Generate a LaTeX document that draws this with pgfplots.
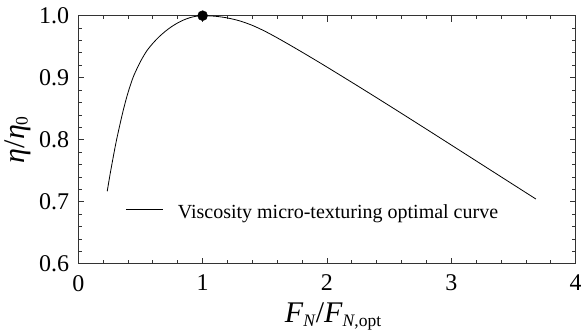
\documentclass[border=0pt]{standalone}
\usepackage{pgfplots}
\pgfplotsset{compat=1.18}
\usepackage{fontspec}
\setmainfont{Liberation Serif}
\newcommand{\sub}[1]{\raisebox{-3.5pt}{\fontsize{17.5}{17.5}\selectfont #1}}
\begin{document}
\begin{tikzpicture}
\begin{axis}[
  scale only axis, width=497.7pt, height=248.3pt,
  xmin=0, xmax=4, ymin=0.6, ymax=1.0,
  xtick={0,1,2,3,4}, ytick={0.6,0.7,0.8,0.9,1.0},
  minor x tick num=4, minor y tick num=4,
  tick align=inside,
  major tick length=6pt, minor tick length=3.5pt,
  every tick/.style={black!80, line width=0.9pt},
  axis line style={black!80, line width=1.2pt},
  /pgf/number format/assume math mode=true,
  y tick label style={/pgf/number format/fixed, /pgf/number format/fixed zerofill, /pgf/number format/precision=1},
  tick label style={font=\fontsize{24}{24}\selectfont},
  x tick label style={inner sep=0pt, anchor=north, yshift=-11pt},
  y tick label style={inner sep=0pt, anchor=east, xshift=-9pt},
  xlabel={\textit{F}\sub{\textit{N}}/\textit{F}\sub{\textit{N},opt}},
  ylabel={\textit{η}/\textit{η}\sub{0}},
  label style={font=\fontsize{30}{30}\selectfont},
  xlabel style={at={(axis description cs:0.512,-0.2364)}, anchor=base},
  ylabel style={at={(axis description cs:-0.1222,0.5)}, anchor=center},
  legend style={draw=none, fill=none, at={(0.0946,0.208)}, anchor=west,
    font=\fontsize{20}{20}\selectfont, inner sep=0pt},
  legend cell align=left,
  legend image code/.code={\draw[#1] (0pt,3pt) -- (37pt,3pt); \path[draw=none] (0pt,0pt) -- (50pt,0pt);},
  clip=false,
]
\addplot[black, line width=0.8pt, smooth] coordinates {
(0.233,0.717) (0.26,0.749) (0.30,0.792) (0.33,0.820) (0.36,0.846)
(0.39,0.869) (0.42,0.8886) (0.45,0.905) (0.50,0.926) (0.55,0.943)
(0.60,0.9555) (0.65,0.966) (0.70,0.9748) (0.75,0.9823) (0.80,0.9884)
(0.85,0.9933) (0.90,0.9969) (0.95,0.9992) (1.0,1.0)
(1.1,0.9991) (1.2,0.99635) (1.3,0.9915) (1.4,0.98435) (1.5,0.97505)
(1.6,0.9643) (1.7,0.9529) (1.8,0.9412) (1.9,0.9293) (2.0,0.9172)
(2.25,0.8864) (2.5,0.8551) (2.75,0.8234) (3.0,0.7915) (3.25,0.7595)
(3.5,0.7275) (3.68,0.7045)
};
\addlegendentry{Viscosity micro-texturing optimal curve}
\addplot[only marks, mark=*, mark size=5pt, black, forget plot] coordinates {(1,1)};
\end{axis}
\pgfresetboundingbox
\path[use as bounding box] ([shift={(-78.3pt,-69pt)}]current axis.south west) rectangle ([shift={(5.3pt,15.7pt)}]current axis.north east);
\end{tikzpicture}
\end{document}
